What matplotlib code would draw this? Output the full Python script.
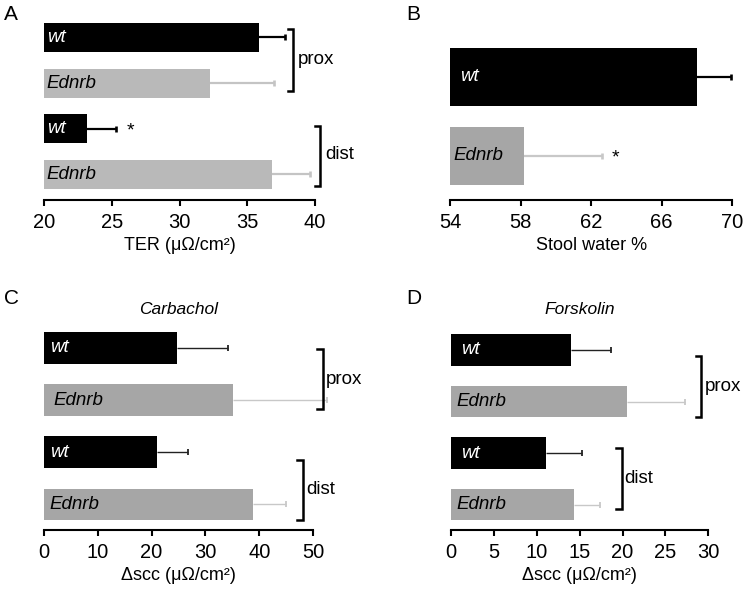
import matplotlib
matplotlib.use("Agg")
import matplotlib.pyplot as plt

plt.rcParams['font.family'] = ['Liberation Sans', 'DejaVu Sans']

# ---- data ----
groups4 = ["wt", "Ednrb", "wt", "Ednrb"]
ter_vals = [35.9, 32.25, 23.2, 36.8]
ter_err = [1.9, 4.75, 2.1, 2.8]

stool_groups = ["wt", "Ednrb"]
stool_vals = [68.0, 58.2]
stool_err = [1.9, 4.4]

carb_vals = [24.7, 35.2, 21.1, 38.8]
carb_err = [9.4, 17.4, 5.6, 6.2]

forsk_vals = [13.95, 20.55, 11.1, 14.3]
forsk_err = [4.75, 6.75, 4.2, 3.1]

ter_ticks = [20, 25, 30, 35, 40]
stool_ticks = [54, 58, 62, 66, 70]
carb_ticks = [0, 10, 20, 30, 40, 50]
forsk_ticks = [0, 5, 10, 15, 20, 25, 30]

W, H = 747, 590
fig = plt.figure(figsize=(W / 100, H / 100), dpi=100)


def px_axes(x0, x1, ytop, ybot):
    return fig.add_axes([x0 / W, 1 - ybot / H, (x1 - x0) / W, (ybot - ytop) / H])


def style(ax, ticks, lo, hi):
    for s in ['top', 'right', 'left']:
        ax.spines[s].set_visible(False)
    ax.spines['bottom'].set_linewidth(1.5)
    ax.set_xlim(lo, hi)
    ax.set_xticks(ticks)
    ax.set_yticks([])
    ax.tick_params(axis='x', length=4, width=1.5, labelsize=14.5, pad=5)
    ax.patch.set_alpha(0)


def bracket(ax, x, y0, y1, hook, label, tx, ty):
    ax.plot([x - hook, x, x, x - hook], [y0, y0, y1, y1], color='black', lw=1.8,
            clip_on=False, solid_joinstyle='miter')
    ax.text(tx, ty, label, fontsize=13.5, va='center', ha='left')


def hbars(ax, vals, errs, colors, ecolors, height, lo, elw, capms):
    ys = list(range(len(vals)))
    for y, v, e, c, ec in zip(ys, vals, errs, colors, ecolors):
        ax.plot([v, v + e], [y, y], color=ec, lw=elw, clip_on=False, zorder=1,
                solid_capstyle='butt')
        ax.plot([v + e], [y], marker='|', ms=capms, mew=elw + 0.3, color=ec,
                clip_on=False, zorder=1)
        ax.barh(y, v - lo, left=lo, height=height, color=c, zorder=2)


def bar_labels(ax, labels, xs, size=13.5):
    for i, (lab, x) in enumerate(zip(labels, xs)):
        col = 'white' if lab == 'wt' else 'black'
        ax.text(x, i, lab, color=col, style='italic', fontsize=size, va='center',
                ha='left', zorder=3)


# ---- Panel A ----
axA = px_axes(44, 315, 14.5, 200)
style(axA, ter_ticks, 20, 40)
colsA = ['black', '#b9b9b9', 'black', '#b9b9b9']
ecolA = ['black', '#c4c4c4', 'black', '#c4c4c4']
hbars(axA, ter_vals, ter_err, colsA, ecolA, 0.635, 20, 1.6, 5)
axA.set_ylim(3.56, -0.5)
bar_labels(axA, groups4, [20.25, 20.15, 20.25, 20.15])
axA.set_xlabel("TER (μΩ/cm²)", fontsize=13, labelpad=4)
bracket(axA, 38.4, -0.19, 1.17, 0.4, "prox", 38.75, 0.49)
bracket(axA, 40.37, 1.94, 3.25, 0.4, "dist", 40.72, 2.57)
axA.text(26.35, 2.05, "*", fontsize=14, ha='center', va='center')

# ---- Panel B ----
axB = px_axes(450, 732.3, 14.5, 200)
style(axB, stool_ticks, 54, 70)
hbars(axB, stool_vals, stool_err, ['black', '#a6a6a6'], ['black', '#c8c8c8'], 0.734, 54, 1.6, 5)
axB.set_ylim(1.557, -0.785)
bar_labels(axB, stool_groups, [54.55, 54.2])
axB.set_xlabel("Stool water %", fontsize=13, labelpad=4)
axB.text(63.4, 1.03, "*", fontsize=14, ha='center', va='center')

# ---- Panel C ----
axC = px_axes(43.7, 313.3, 318, 530)
style(axC, carb_ticks, 0, 50)
colsC = ['black', '#a6a6a6', 'black', '#a6a6a6']
ecolC = ['#222222', '#c8c8c8', '#222222', '#c8c8c8']
hbars(axC, carb_vals, carb_err, colsC, ecolC, 0.61, 0, 1.0, 5)
axC.set_ylim(3.49, -0.575)
bar_labels(axC, groups4, [1.2, 1.8, 1.2, 1.1])
axC.set_xlabel("Δscc (μΩ/cm²)", fontsize=13, labelpad=4)
bracket(axC, 51.8, 0.02, 1.17, 1.1, "prox", 52.4, 0.61)
bracket(axC, 48.1, 2.15, 3.3, 1.1, "dist", 48.6, 2.72)
axC.set_title("Carbachol", fontsize=12.5, style='italic', pad=3)

# ---- Panel D ----
axD = px_axes(451, 708.3, 318, 530)
style(axD, forsk_ticks, 0, 30)
hbars(axD, forsk_vals, forsk_err, colsC, ecolC, 0.61, 0, 1.0, 5)
axD.set_ylim(3.49, -0.62)
bar_labels(axD, groups4, [1.15, 0.6, 1.15, 0.6])
axD.set_xlabel("Δscc (μΩ/cm²)", fontsize=13, labelpad=4)
bracket(axD, 29.2, 0.115, 1.29, 0.65, "prox", 29.55, 0.71)
bracket(axD, 19.9, 1.9, 3.08, 0.65, "dist", 20.25, 2.5)
axD.set_title("Forskolin", fontsize=12.5, style='italic', pad=3)

# panel letters
for lab, x, y in [("A", 4, 14), ("B", 406, 14), ("C", 4, 298), ("D", 406, 298)]:
    fig.text(x / W, 1 - y / H, lab, fontsize=15, va='center', ha='left')

fig.savefig("out.png", dpi=100)
